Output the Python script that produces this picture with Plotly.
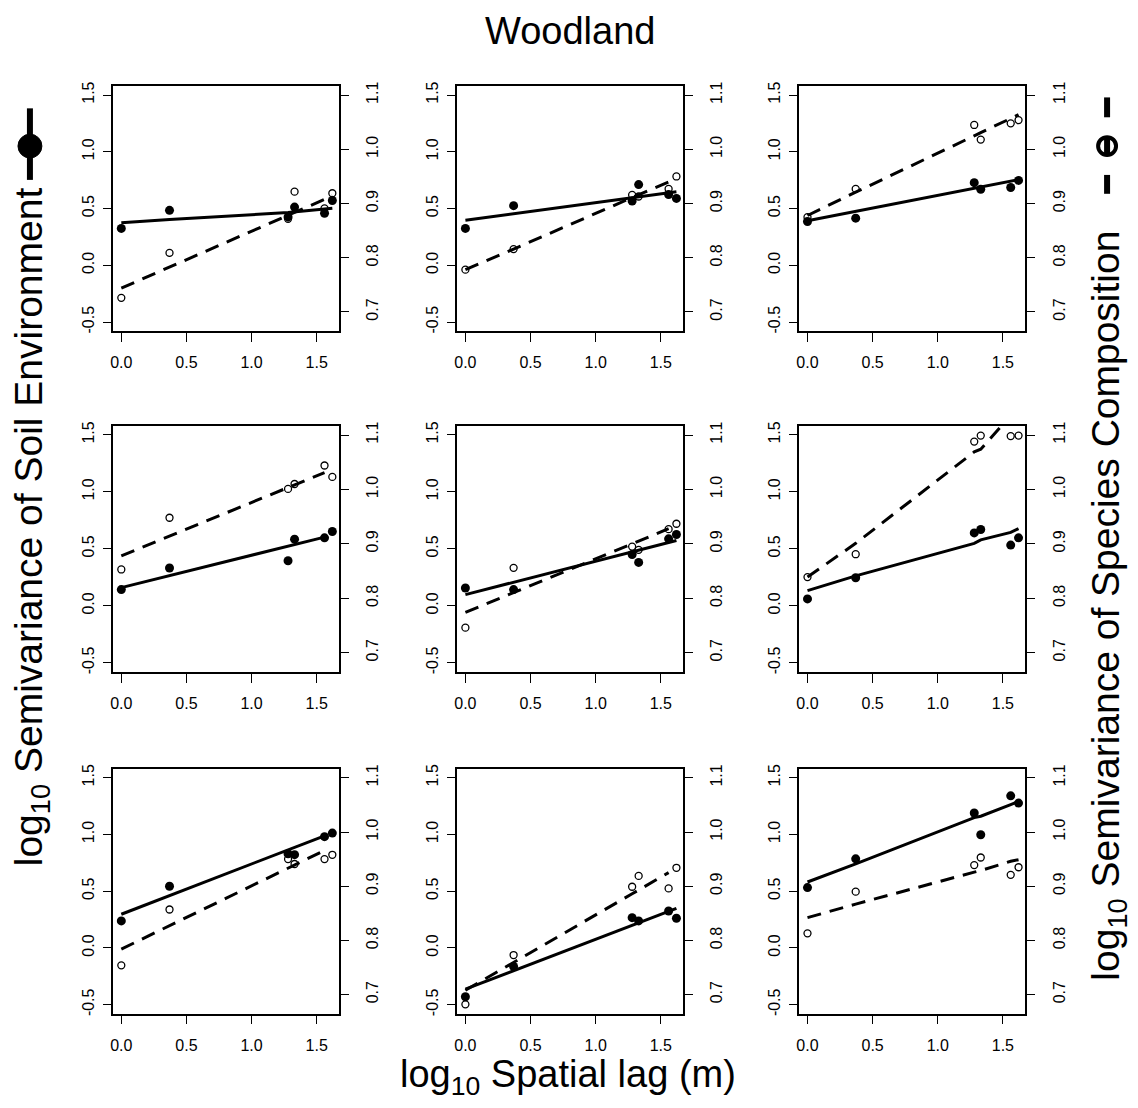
import plotly.graph_objects as go

# log10 spatial lag (m) at which semivariance was computed
lag = [0.0, 0.37, 1.28, 1.33, 1.56, 1.62]

# log10 semivariance of soil environment (left axis), one list per panel
soil_obs = [
    [0.325, 0.484, 0.426, 0.513, 0.458, 0.571],
    [0.325, 0.525, 0.566, 0.711, 0.624, 0.589],
    [0.386, 0.415, 0.728, 0.670, 0.685, 0.748],
    [0.143, 0.332, 0.396, 0.585, 0.597, 0.652],
    [0.157, 0.143, 0.451, 0.381, 0.588, 0.626],
    [0.061, 0.247, 0.640, 0.670, 0.533, 0.597],
    [0.238, 0.544, 0.830, 0.822, 0.980, 1.012],
    [-0.430, -0.163, 0.267, 0.238, 0.326, 0.262],
    [0.532, 0.785, 1.189, 0.997, 1.340, 1.276],
]
soil_fit = [
    [0.374, 0.403, 0.465, 0.470, 0.492, 0.502],
    [0.397, 0.454, 0.594, 0.602, 0.638, 0.647],
    [0.392, 0.475, 0.678, 0.690, 0.742, 0.754],
    [0.160, 0.265, 0.524, 0.538, 0.603],
    [0.099, 0.207, 0.474, 0.488, 0.555, 0.573],
    [0.134, 0.263, 0.548, 0.579, 0.645, 0.678],
    [0.297, 0.461, 0.864, 0.886, 0.988],
    [-0.363, -0.200, 0.200, 0.222, 0.323, 0.349],
    [0.581, 0.741, 1.148, 1.160, 1.263, 1.291],
]

# log10 semivariance of species composition (right axis)
species_obs = [
    [0.726, 0.809, 0.872, 0.922, 0.891, 0.919],
    [0.778, 0.816, 0.916, 0.913, 0.927, 0.950],
    [0.875, 0.927, 1.045, 1.018, 1.048, 1.054],
    [0.853, 0.948, 1.001, 1.010, 1.044, 1.023],
    [0.746, 0.856, 0.895, 0.889, 0.927, 0.937],
    [0.839, 0.881, 1.088, 1.099, 1.098, 1.099],
    [0.754, 0.857, 0.950, 0.941, 0.950, 0.958],
    [0.682, 0.773, 0.899, 0.919, 0.896, 0.934],
    [0.813, 0.890, 0.939, 0.953, 0.921, 0.935],
]
species_fit = [
    [0.744, 0.783, 0.878, 0.884, 0.908, 0.914],
    [0.778, 0.816, 0.911, 0.916, 0.940, 0.946],
    [0.878, 0.921, 1.025, 1.031, 1.057, 1.064],
    [0.878, 0.914, 1.003, 1.008, 1.031],
    [0.774, 0.810, 0.900, 0.905, 0.928],
    [0.839, 0.901, 1.069, 1.074, 1.136, 1.150],
    [0.784, 0.827, 0.933, 0.939, 0.966],
    [0.708, 0.759, 0.886, 0.893, 0.925],
    [0.842, 0.867, 0.926, 0.929, 0.946, 0.949],
]

x_ticks = [0.0, 0.5, 1.0, 1.5]
left_ticks = [-0.5, 0.0, 0.5, 1.0, 1.5]
right_ticks = [0.7, 0.8, 0.9, 1.0, 1.1]

W, H = 1138, 1108
FONT = "Liberation Sans, Arial, Helvetica, sans-serif"

# panel boxes in pixels
col_px = [(110, 337), (455, 682), (798, 1025)]
row_px = [(82, 328), (424, 671), (769, 1015)]


def px_x(p):
    return p / W


def px_y(p):
    return 1 - p / H


fig = go.Figure()
layout = {}

for k in range(9):
    r, c = divmod(k, 3)
    xa = f"x{k + 1}"
    yl = f"y{2 * k + 1}"
    yr = f"y{2 * k + 2}"
    x0, x1 = col_px[c]
    y0, y1 = row_px[r]

    tickfont = dict(family=FONT, size=16, color="black")
    layout[f"xaxis{k + 1}"] = dict(
        domain=[px_x(x0), px_x(x1)], anchor=yl, range=[-0.066, 1.672],
        tickvals=x_ticks, ticktext=[f"{v:.1f}" for v in x_ticks],
        ticks="outside", ticklen=9, tickwidth=1.4, tickcolor="black",
        showline=True, mirror=True, linecolor="black", linewidth=1.6,
        showgrid=False, zeroline=False, tickfont=tickfont,
        ticklabelstandoff=7,
    )
    layout[f"yaxis{2 * k + 1}"] = dict(
        domain=[px_y(y1), px_y(y0)], anchor=xa, range=[-0.578, 1.575],
        tickvals=left_ticks, ticktext=[f"{v:.1f}" for v in left_ticks],
        ticks="outside", ticklen=8, tickwidth=1.4, tickcolor="black",
        showline=True, mirror=True, linecolor="black", linewidth=1.6,
        showgrid=False, zeroline=False, tickangle=-90, tickfont=tickfont,
        ticklabelstandoff=3,
    )
    layout[f"yaxis{2 * k + 2}"] = dict(
        domain=[px_y(y1), px_y(y0)], anchor=xa, overlaying=yl, side="right",
        range=[0.665, 1.116],
        tickvals=right_ticks, ticktext=[f"{v:.1f}" for v in right_ticks],
        ticks="outside", ticklen=9, tickwidth=1.4, tickcolor="black",
        showline=False, showgrid=False, zeroline=False, tickangle=-90,
        tickfont=tickfont, ticklabelstandoff=10,
    )

    # soil environment: filled points, solid fitted line
    fig.add_trace(go.Scatter(
        x=lag, y=soil_obs[k], xaxis=xa, yaxis=yl, mode="markers",
        marker=dict(symbol="circle", size=9, color="black"),
        showlegend=False, hoverinfo="skip",
    ))
    fig.add_trace(go.Scatter(
        x=lag[:len(soil_fit[k])], y=soil_fit[k], xaxis=xa, yaxis=yl,
        mode="lines", line=dict(color="black", width=3),
        showlegend=False, hoverinfo="skip",
    ))
    # species composition: open points, dashed fitted line
    fig.add_trace(go.Scatter(
        x=lag, y=species_obs[k], xaxis=xa, yaxis=yr, mode="markers",
        marker=dict(symbol="circle-open", size=7, color="black",
                    line=dict(width=1.3, color="black")),
        showlegend=False, hoverinfo="skip",
    ))
    fig.add_trace(go.Scatter(
        x=lag[:len(species_fit[k])], y=species_fit[k], xaxis=xa, yaxis=yr,
        mode="lines", line=dict(color="black", width=3, dash="14px,9px"),
        showlegend=False, hoverinfo="skip",
    ))

big = dict(family=FONT, size=38, color="black")
side = dict(family=FONT, size=39, color="black")
annotations = [
    dict(text="Woodland", x=px_x(568), y=px_y(26), xref="paper", yref="paper",
         xanchor="center", yanchor="middle", showarrow=False, font=big),
    dict(text="log<sub>10</sub> Spatial lag (m)", x=px_x(566), y=px_y(1079),
         xref="paper", yref="paper", xanchor="center", yanchor="middle",
         showarrow=False, font=big),
    dict(text="log<sub>10</sub> Semivariance of Soil Environment",
         x=px_x(28), y=px_y(181), xref="paper", yref="paper",
         xanchor="center", yanchor="top", textangle=-90, showarrow=False,
         font=side),
    dict(text="log<sub>10</sub> Semivariance of Species Composition",
         x=px_x(1108), y=px_y(225), xref="paper", yref="paper",
         xanchor="center", yanchor="top", textangle=-90, showarrow=False,
         font=side),
]

# key symbols at the ends of the two y-axis titles
shapes = [
    dict(type="line", xref="paper", yref="paper",
         x0=px_x(27), x1=px_x(27), y0=px_y(104), y1=px_y(176),
         line=dict(color="black", width=6)),
    dict(type="circle", xref="paper", yref="paper",
         x0=px_x(15), x1=px_x(39), y0=px_y(130), y1=px_y(154),
         fillcolor="black", line=dict(color="black", width=1)),
]
for a, b in [(93, 113), (132, 152), (171, 190)]:
    shapes.append(dict(type="line", xref="paper", yref="paper",
                       x0=px_x(1107), x1=px_x(1107), y0=px_y(a), y1=px_y(b),
                       line=dict(color="black", width=6)))
shapes.append(dict(type="circle", xref="paper", yref="paper",
                   x0=px_x(1098), x1=px_x(1116), y0=px_y(133), y1=px_y(151),
                   fillcolor="rgba(0,0,0,0)", line=dict(color="black", width=4)))

fig.update_layout(
    width=W, height=H, margin=dict(l=0, r=0, t=0, b=0),
    paper_bgcolor="white", plot_bgcolor="white",
    annotations=annotations, shapes=shapes, showlegend=False,
    font=dict(family=FONT, color="black"),
    **layout,
)

fig.write_html("out.html")
